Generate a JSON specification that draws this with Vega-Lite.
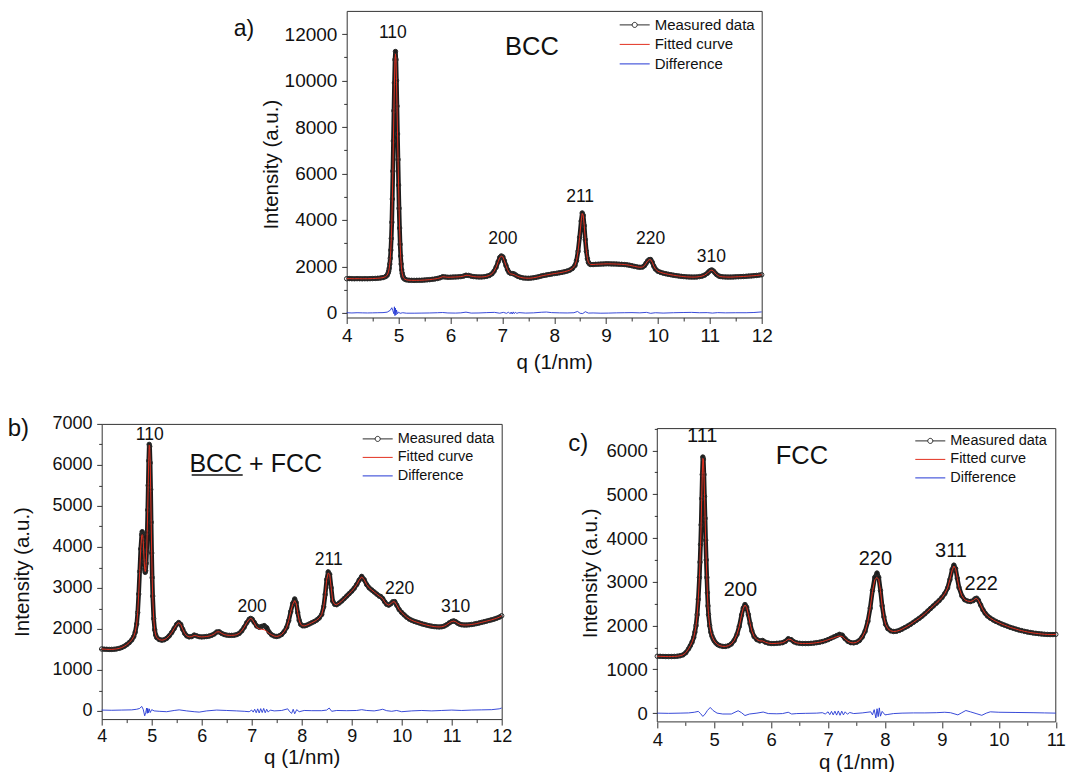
{
  "$schema": "https://vega.github.io/schema/vega-lite/v6.json",
  "padding": {"left": 6.7, "top": 9.9, "right": 0, "bottom": 0},
  "config": {
    "font": "Liberation Sans",
    "view": {"stroke": "#333", "strokeWidth": 1},
    "axis": {"domain": false, "grid": false, "tickColor": "#333", "tickWidth": 1, "labelColor": "#111", "titleColor": "#111", "labelFont": "Liberation Sans", "titleFont": "Liberation Sans", "titleFontWeight": "normal", "labelOverlap": false, "labelFlush": false, "labelBound": false},
    "legend": {"orient": "top-right", "offset": 6, "padding": 0, "labelFont": "Liberation Sans", "labelFontSize": 14.5, "labelColor": "#111", "symbolSize": 225, "labelOffset": 12, "rowPadding": 3.5},
    "title": {"font": "Liberation Sans", "fontWeight": "normal", "color": "#111"},
    "text": {"font": "Liberation Sans", "color": "#111"}
  },
  "datasets": {
    "a_m": [
      {"q":4,"m":1470,"f":1470},{"q":4.05,"m":1475,"f":1475},{"q":4.1,"m":1470,"f":1470},{"q":4.15,"m":1468,"f":1468},{"q":4.2,"m":1472,"f":1472},{"q":4.25,"m":1470,"f":1470},{"q":4.3,"m":1466,"f":1466},{"q":4.35,"m":1470,"f":1470},{"q":4.4,"m":1468,"f":1468},{"q":4.45,"m":1472,"f":1472},{"q":4.5,"m":1476,"f":1476},{"q":4.55,"m":1482,"f":1482},{"q":4.6,"m":1490,"f":1490},{"q":4.65,"m":1500,"f":1500},{"q":4.7,"m":1518,"f":1518},{"q":4.75,"m":1560,"f":1560},{"q":4.78,"m":1620,"f":1620},
      {"q":4.8,"m":1720,"f":1720},{"q":4.81,"m":1800,"f":1800},{"q":4.82,"m":1920,"f":1920},{"q":4.83,"m":2100,"f":2100},{"q":4.84,"m":2350,"f":2350},{"q":4.85,"m":2700,"f":2700},{"q":4.86,"m":3200,"f":3200},{"q":4.87,"m":3900,"f":3900},{"q":4.88,"m":4900,"f":4900},{"q":4.89,"m":6100,"f":6100},{"q":4.9,"m":7400,"f":7400},{"q":4.91,"m":8700,"f":8700},{"q":4.92,"m":9900,"f":9900},{"q":4.93,"m":10900,"f":10850},{"q":4.94,"m":11250,"f":11150},{"q":4.95,"m":10900,"f":10900},{"q":4.96,"m":10000,"f":10000},{"q":4.97,"m":8900,"f":8900},{"q":4.98,"m":7700,"f":7700},{"q":4.99,"m":6600,"f":6600},{"q":5,"m":5500,"f":5500},{"q":5.01,"m":4500,"f":4500},{"q":5.02,"m":3650,"f":3650},{"q":5.03,"m":2950,"f":2950},{"q":5.04,"m":2450,"f":2450},{"q":5.05,"m":2100,"f":2100},{"q":5.06,"m":1850,"f":1850},{"q":5.07,"m":1700,"f":1700},{"q":5.08,"m":1600,"f":1600},{"q":5.09,"m":1530,"f":1530},{"q":5.1,"m":1490,"f":1490},
      {"q":5.12,"m":1450,"f":1450},{"q":5.15,"m":1420,"f":1420},{"q":5.2,"m":1405,"f":1405},{"q":5.25,"m":1400,"f":1400},{"q":5.3,"m":1398,"f":1398},{"q":5.35,"m":1400,"f":1400},{"q":5.4,"m":1402,"f":1402},{"q":5.45,"m":1406,"f":1406},{"q":5.5,"m":1412,"f":1412},{"q":5.55,"m":1420,"f":1420},{"q":5.6,"m":1430,"f":1430},{"q":5.65,"m":1444,"f":1444},{"q":5.7,"m":1460,"f":1460},{"q":5.75,"m":1480,"f":1480},{"q":5.8,"m":1510,"f":1510},{"q":5.85,"m":1555,"f":1555},{"q":5.9,"m":1545,"f":1545},{"q":5.95,"m":1532,"f":1532},{"q":6,"m":1535,"f":1535},{"q":6.05,"m":1540,"f":1540},{"q":6.1,"m":1545,"f":1545},{"q":6.15,"m":1550,"f":1550},{"q":6.2,"m":1560,"f":1560},{"q":6.25,"m":1580,"f":1580},{"q":6.3,"m":1620,"f":1620},{"q":6.35,"m":1612,"f":1612},{"q":6.4,"m":1580,"f":1580},{"q":6.45,"m":1560,"f":1560},{"q":6.5,"m":1550,"f":1550},{"q":6.55,"m":1545,"f":1545},{"q":6.6,"m":1546,"f":1546},{"q":6.65,"m":1555,"f":1555},{"q":6.7,"m":1575,"f":1575},{"q":6.75,"m":1610,"f":1610},
      {"q":6.8,"m":1680,"f":1680},{"q":6.84,"m":1790,"f":1790},{"q":6.88,"m":1960,"f":1960},{"q":6.92,"m":2200,"f":2200},{"q":6.95,"m":2380,"f":2380},{"q":6.98,"m":2450,"f":2440},{"q":7.01,"m":2410,"f":2410},{"q":7.04,"m":2240,"f":2240},{"q":7.07,"m":2040,"f":2040},{"q":7.1,"m":1860,"f":1860},{"q":7.13,"m":1740,"f":1730},{"q":7.16,"m":1700,"f":1680},{"q":7.2,"m":1690,"f":1660},{"q":7.23,"m":1670,"f":1640},{"q":7.26,"m":1625,"f":1610},{"q":7.3,"m":1570,"f":1570},{"q":7.35,"m":1530,"f":1530},{"q":7.4,"m":1505,"f":1505},{"q":7.45,"m":1495,"f":1495},{"q":7.5,"m":1490,"f":1490},{"q":7.55,"m":1495,"f":1495},{"q":7.6,"m":1510,"f":1510},{"q":7.65,"m":1530,"f":1530},{"q":7.7,"m":1555,"f":1555},{"q":7.75,"m":1585,"f":1585},{"q":7.8,"m":1610,"f":1610},{"q":7.85,"m":1630,"f":1630},{"q":7.9,"m":1650,"f":1650},{"q":7.95,"m":1670,"f":1670},{"q":8,"m":1690,"f":1690},{"q":8.05,"m":1705,"f":1705},{"q":8.1,"m":1725,"f":1725},{"q":8.15,"m":1745,"f":1745},{"q":8.2,"m":1770,"f":1770},{"q":8.25,"m":1800,"f":1800},{"q":8.3,"m":1840,"f":1840},{"q":8.35,"m":1910,"f":1910},
      {"q":8.4,"m":2040,"f":2040},{"q":8.43,"m":2250,"f":2250},{"q":8.46,"m":2650,"f":2650},{"q":8.49,"m":3250,"f":3250},{"q":8.52,"m":3950,"f":3950},{"q":8.54,"m":4300,"f":4280},{"q":8.56,"m":4200,"f":4200},{"q":8.58,"m":3750,"f":3750},{"q":8.6,"m":3150,"f":3150},{"q":8.62,"m":2650,"f":2650},{"q":8.64,"m":2330,"f":2330},{"q":8.66,"m":2170,"f":2170},{"q":8.68,"m":2110,"f":2110},{"q":8.7,"m":2085,"f":2085},{"q":8.75,"m":2080,"f":2080},{"q":8.8,"m":2090,"f":2090},{"q":8.85,"m":2095,"f":2095},{"q":8.9,"m":2100,"f":2100},{"q":8.95,"m":2105,"f":2105},{"q":9,"m":2110,"f":2110},{"q":9.05,"m":2110,"f":2110},{"q":9.1,"m":2108,"f":2108},{"q":9.15,"m":2105,"f":2105},{"q":9.2,"m":2100,"f":2100},{"q":9.25,"m":2095,"f":2095},{"q":9.3,"m":2088,"f":2088},{"q":9.35,"m":2080,"f":2080},{"q":9.4,"m":2068,"f":2068},{"q":9.45,"m":2050,"f":2050},{"q":9.5,"m":2025,"f":2025},{"q":9.55,"m":2000,"f":2000},{"q":9.6,"m":1978,"f":1978},{"q":9.65,"m":1962,"f":1962},{"q":9.7,"m":1970,"f":1970},
      {"q":9.74,"m":2030,"f":2030},{"q":9.77,"m":2130,"f":2130},{"q":9.8,"m":2230,"f":2230},{"q":9.83,"m":2290,"f":2290},{"q":9.86,"m":2295,"f":2290},{"q":9.89,"m":2180,"f":2180},{"q":9.92,"m":2010,"f":2010},{"q":9.95,"m":1890,"f":1890},{"q":10,"m":1790,"f":1790},{"q":10.05,"m":1745,"f":1745},{"q":10.1,"m":1710,"f":1710},{"q":10.15,"m":1685,"f":1685},{"q":10.2,"m":1660,"f":1660},{"q":10.25,"m":1640,"f":1640},{"q":10.3,"m":1620,"f":1620},{"q":10.35,"m":1602,"f":1602},{"q":10.4,"m":1586,"f":1586},{"q":10.45,"m":1572,"f":1572},{"q":10.5,"m":1560,"f":1560},{"q":10.55,"m":1550,"f":1550},{"q":10.6,"m":1545,"f":1545},{"q":10.65,"m":1540,"f":1540},{"q":10.7,"m":1540,"f":1540},{"q":10.75,"m":1546,"f":1546},{"q":10.8,"m":1560,"f":1560},{"q":10.85,"m":1580,"f":1580},{"q":10.9,"m":1625,"f":1625},{"q":10.95,"m":1700,"f":1700},{"q":10.98,"m":1770,"f":1770},{"q":11.01,"m":1825,"f":1825},{"q":11.04,"m":1845,"f":1840},{"q":11.07,"m":1800,"f":1800},{"q":11.1,"m":1720,"f":1720},{"q":11.13,"m":1650,"f":1650},{"q":11.17,"m":1590,"f":1590},{"q":11.2,"m":1565,"f":1565},
      {"q":11.25,"m":1550,"f":1550},{"q":11.3,"m":1545,"f":1545},{"q":11.35,"m":1540,"f":1540},{"q":11.4,"m":1540,"f":1540},{"q":11.45,"m":1544,"f":1544},{"q":11.5,"m":1550,"f":1550},{"q":11.55,"m":1555,"f":1555},{"q":11.6,"m":1560,"f":1560},{"q":11.65,"m":1566,"f":1566},{"q":11.7,"m":1574,"f":1574},{"q":11.75,"m":1582,"f":1582},{"q":11.8,"m":1591,"f":1591},{"q":11.85,"m":1600,"f":1600},{"q":11.9,"m":1611,"f":1611},{"q":11.95,"m":1624,"f":1624},{"q":12,"m":1640,"f":1640}
    ],
    "a_d": [
      {"q":4,"d":5},{"q":4.1,"d":-5},{"q":4.2,"d":5},{"q":4.3,"d":0},{"q":4.4,"d":-5},{"q":4.5,"d":0},{"q":4.6,"d":5},{"q":4.7,"d":10},{"q":4.78,"d":30},{"q":4.84,"d":110},{"q":4.87,"d":220},{"q":4.89,"d":90},{"q":4.91,"d":-40},{"q":4.92,"d":260},{"q":4.93,"d":-120},{"q":4.94,"d":200},{"q":4.95,"d":-90},{"q":4.96,"d":120},{"q":4.98,"d":-40},{"q":5,"d":30},{"q":5.03,"d":-20},{"q":5.08,"d":5},{"q":5.15,"d":-15},{"q":5.3,"d":-15},{"q":5.45,"d":-10},{"q":5.6,"d":-5},{"q":5.75,"d":5},{"q":5.85,"d":15},{"q":5.95,"d":-5},{"q":6.1,"d":-10},{"q":6.2,"d":0},{"q":6.3,"d":30},{"q":6.4,"d":-10},{"q":6.55,"d":-5},{"q":6.7,"d":10},{"q":6.85,"d":20},{"q":6.95,"d":-15},{"q":7.02,"d":20},{"q":7.08,"d":-20},{"q":7.12,"d":30},{"q":7.15,"d":-40},{"q":7.17,"d":35},{"q":7.19,"d":-50},{"q":7.21,"d":40},{"q":7.23,"d":-35},{"q":7.25,"d":25},{"q":7.28,"d":-20},{"q":7.32,"d":10},{"q":7.45,"d":-10},{"q":7.6,"d":0},{"q":7.75,"d":25},{"q":7.85,"d":35},{"q":7.95,"d":10},{"q":8.1,"d":0},{"q":8.25,"d":-5},{"q":8.38,"d":5},{"q":8.45,"d":60},{"q":8.5,"d":-20},{"q":8.55,"d":-30},{"q":8.6,"d":50},{"q":8.66,"d":-10},{"q":8.75,"d":-5},{"q":8.9,"d":-15},{"q":9.05,"d":-10},{"q":9.2,"d":0},{"q":9.35,"d":5},{"q":9.5,"d":10},{"q":9.65,"d":0},{"q":9.78,"d":20},{"q":9.86,"d":-20},{"q":9.95,"d":5},{"q":10.1,"d":-10},{"q":10.3,"d":5},{"q":10.5,"d":15},{"q":10.65,"d":20},{"q":10.8,"d":5},{"q":10.95,"d":10},{"q":11.05,"d":-10},{"q":11.15,"d":10},{"q":11.3,"d":0},{"q":11.5,"d":5},{"q":11.7,"d":5},{"q":11.85,"d":15},{"q":12,"d":40}
    ],
    "a_lab": [{"q":4.89,"I":12070,"t":"110"},{"q":7.01,"I":3170,"t":"200"},{"q":8.5,"I":4970,"t":"211"},{"q":9.86,"I":3170,"t":"220"},{"q":11.03,"I":2410,"t":"310"}],
    "a_ph": [{"q":7.57,"I":11430,"t":"BCC"}],
    "b_m": [
      {"q":4,"m":1510,"f":1510},{"q":4.05,"m":1506,"f":1506},{"q":4.1,"m":1502,"f":1502},{"q":4.15,"m":1499,"f":1499},{"q":4.2,"m":1500,"f":1500},{"q":4.25,"m":1504,"f":1504},{"q":4.3,"m":1512,"f":1512},{"q":4.35,"m":1525,"f":1525},{"q":4.4,"m":1545,"f":1545},{"q":4.45,"m":1575,"f":1575},{"q":4.5,"m":1615,"f":1615},{"q":4.55,"m":1665,"f":1665},{"q":4.6,"m":1730,"f":1730},{"q":4.64,"m":1810,"f":1810},{"q":4.67,"m":1920,"f":1920},{"q":4.7,"m":2120,"f":2120},{"q":4.72,"m":2400,"f":2400},{"q":4.74,"m":2850,"f":2850},{"q":4.76,"m":3400,"f":3400},{"q":4.78,"m":3950,"f":3950},{"q":4.8,"m":4300,"f":4280},{"q":4.81,"m":4370,"f":4300},{"q":4.82,"m":4320,"f":4280},{"q":4.83,"m":4150,"f":4150},{"q":4.84,"m":3900,"f":3900},{"q":4.85,"m":3650,"f":3650},{"q":4.86,"m":3450,"f":3450},{"q":4.87,"m":3380,"f":3400},{"q":4.88,"m":3420,"f":3440},{"q":4.89,"m":3600,"f":3600},{"q":4.9,"m":3900,"f":3900},{"q":4.91,"m":4350,"f":4350},{"q":4.92,"m":4900,"f":4900},{"q":4.93,"m":5500,"f":5500},{"q":4.94,"m":6100,"f":6100},{"q":4.95,"m":6500,"f":6480},{"q":4.96,"m":6450,"f":6450},{"q":4.97,"m":6050,"f":6050},{"q":4.98,"m":5400,"f":5400},{"q":4.99,"m":4600,"f":4600},{"q":5,"m":3850,"f":3850},{"q":5.01,"m":3250,"f":3250},{"q":5.02,"m":2800,"f":2800},{"q":5.04,"m":2250,"f":2250},{"q":5.06,"m":1980,"f":1980},{"q":5.08,"m":1850,"f":1850},{"q":5.1,"m":1790,"f":1790},
      {"q":5.15,"m":1740,"f":1740},{"q":5.2,"m":1725,"f":1725},{"q":5.25,"m":1735,"f":1735},{"q":5.3,"m":1770,"f":1770},{"q":5.35,"m":1830,"f":1830},{"q":5.4,"m":1910,"f":1910},{"q":5.45,"m":2010,"f":2010},{"q":5.5,"m":2110,"f":2110},{"q":5.54,"m":2155,"f":2150},{"q":5.58,"m":2110,"f":2110},{"q":5.62,"m":1990,"f":1990},{"q":5.66,"m":1890,"f":1890},{"q":5.7,"m":1830,"f":1830},{"q":5.75,"m":1805,"f":1805},{"q":5.8,"m":1812,"f":1812},{"q":5.85,"m":1850,"f":1840},{"q":5.9,"m":1830,"f":1830},{"q":5.95,"m":1810,"f":1810},{"q":6,"m":1805,"f":1805},{"q":6.05,"m":1808,"f":1808},{"q":6.1,"m":1815,"f":1815},{"q":6.15,"m":1825,"f":1825},{"q":6.2,"m":1845,"f":1845},{"q":6.25,"m":1875,"f":1875},{"q":6.3,"m":1925,"f":1925},{"q":6.35,"m":1930,"f":1930},{"q":6.4,"m":1890,"f":1890},{"q":6.45,"m":1862,"f":1862},{"q":6.5,"m":1848,"f":1848},{"q":6.55,"m":1842,"f":1842},{"q":6.6,"m":1842,"f":1842},{"q":6.65,"m":1846,"f":1846},{"q":6.7,"m":1860,"f":1860},{"q":6.75,"m":1890,"f":1890},{"q":6.8,"m":1950,"f":1950},{"q":6.85,"m":2040,"f":2040},{"q":6.9,"m":2150,"f":2150},{"q":6.95,"m":2235,"f":2235},{"q":6.98,"m":2255,"f":2255},{"q":7.01,"m":2235,"f":2235},
      {"q":7.05,"m":2160,"f":2150},{"q":7.1,"m":2070,"f":2040},{"q":7.15,"m":2040,"f":2000},{"q":7.2,"m":2060,"f":1990},{"q":7.25,"m":2080,"f":1980},{"q":7.3,"m":2030,"f":1940},{"q":7.35,"m":1920,"f":1890},{"q":7.4,"m":1855,"f":1855},{"q":7.45,"m":1825,"f":1825},{"q":7.5,"m":1815,"f":1815},{"q":7.55,"m":1830,"f":1830},{"q":7.6,"m":1865,"f":1865},{"q":7.65,"m":1935,"f":1935},{"q":7.7,"m":2040,"f":2040},{"q":7.74,"m":2200,"f":2200},{"q":7.78,"m":2420,"f":2420},{"q":7.82,"m":2620,"f":2600},{"q":7.86,"m":2730,"f":2690},{"q":7.89,"m":2640,"f":2620},{"q":7.92,"m":2400,"f":2400},{"q":7.95,"m":2210,"f":2210},{"q":7.98,"m":2110,"f":2110},{"q":8.02,"m":2075,"f":2075},{"q":8.06,"m":2075,"f":2075},{"q":8.1,"m":2090,"f":2090},{"q":8.15,"m":2118,"f":2118},{"q":8.2,"m":2148,"f":2148},{"q":8.25,"m":2178,"f":2178},{"q":8.3,"m":2215,"f":2215},{"q":8.35,"m":2265,"f":2265},{"q":8.4,"m":2350,"f":2350},{"q":8.44,"m":2540,"f":2540},{"q":8.47,"m":2840,"f":2840},{"q":8.5,"m":3200,"f":3200},{"q":8.53,"m":3390,"f":3360},{"q":8.56,"m":3330,"f":3330},{"q":8.59,"m":3000,"f":3000},{"q":8.62,"m":2680,"f":2680},
      {"q":8.66,"m":2600,"f":2600},{"q":8.7,"m":2590,"f":2590},{"q":8.75,"m":2630,"f":2630},{"q":8.8,"m":2680,"f":2680},{"q":8.85,"m":2740,"f":2740},{"q":8.9,"m":2800,"f":2800},{"q":8.95,"m":2860,"f":2860},{"q":9,"m":2920,"f":2920},{"q":9.05,"m":2990,"f":2990},{"q":9.1,"m":3080,"f":3080},{"q":9.15,"m":3190,"f":3190},{"q":9.2,"m":3280,"f":3270},{"q":9.25,"m":3200,"f":3200},{"q":9.3,"m":3080,"f":3080},{"q":9.35,"m":3000,"f":3000},{"q":9.4,"m":2950,"f":2950},{"q":9.45,"m":2900,"f":2900},{"q":9.5,"m":2850,"f":2850},{"q":9.55,"m":2800,"f":2800},{"q":9.58,"m":2790,"f":2780},{"q":9.62,"m":2740,"f":2740},{"q":9.66,"m":2660,"f":2660},{"q":9.7,"m":2600,"f":2600},{"q":9.74,"m":2580,"f":2580},{"q":9.78,"m":2610,"f":2610},{"q":9.82,"m":2660,"f":2660},{"q":9.86,"m":2665,"f":2660},{"q":9.9,"m":2580,"f":2580},{"q":9.95,"m":2470,"f":2470},{"q":10,"m":2400,"f":2400},{"q":10.05,"m":2340,"f":2340},{"q":10.1,"m":2285,"f":2285},{"q":10.15,"m":2240,"f":2240},{"q":10.2,"m":2210,"f":2210},{"q":10.25,"m":2185,"f":2185},{"q":10.3,"m":2165,"f":2165},{"q":10.35,"m":2145,"f":2145},
      {"q":10.4,"m":2125,"f":2125},{"q":10.45,"m":2108,"f":2108},{"q":10.5,"m":2092,"f":2092},{"q":10.55,"m":2078,"f":2078},{"q":10.6,"m":2066,"f":2066},{"q":10.65,"m":2056,"f":2056},{"q":10.7,"m":2050,"f":2050},{"q":10.75,"m":2048,"f":2048},{"q":10.8,"m":2052,"f":2052},{"q":10.85,"m":2068,"f":2068},{"q":10.9,"m":2100,"f":2100},{"q":10.95,"m":2145,"f":2145},{"q":11,"m":2180,"f":2180},{"q":11.04,"m":2195,"f":2190},{"q":11.08,"m":2175,"f":2175},{"q":11.12,"m":2140,"f":2140},{"q":11.16,"m":2115,"f":2115},{"q":11.2,"m":2100,"f":2100},{"q":11.25,"m":2095,"f":2095},{"q":11.3,"m":2096,"f":2096},{"q":11.35,"m":2100,"f":2100},{"q":11.4,"m":2108,"f":2108},{"q":11.45,"m":2118,"f":2118},{"q":11.5,"m":2130,"f":2130},{"q":11.55,"m":2145,"f":2145},{"q":11.6,"m":2160,"f":2160},{"q":11.65,"m":2175,"f":2175},{"q":11.7,"m":2190,"f":2190},{"q":11.75,"m":2206,"f":2206},{"q":11.8,"m":2222,"f":2222},{"q":11.85,"m":2240,"f":2240},{"q":11.9,"m":2260,"f":2260},{"q":11.95,"m":2285,"f":2285},{"q":12,"m":2320,"f":2320}
    ],
    "b_d": [
      {"q":4,"d":20},{"q":4.2,"d":15},{"q":4.4,"d":20},{"q":4.6,"d":25},{"q":4.7,"d":40},{"q":4.76,"d":60},{"q":4.8,"d":110},{"q":4.83,"d":40},{"q":4.86,"d":-120},{"q":4.88,"d":-40},{"q":4.9,"d":70},{"q":4.91,"d":-60},{"q":4.92,"d":60},{"q":4.93,"d":-50},{"q":4.95,"d":50},{"q":4.97,"d":-40},{"q":5,"d":30},{"q":5.05,"d":0},{"q":5.15,"d":-10},{"q":5.3,"d":-20},{"q":5.45,"d":10},{"q":5.55,"d":25},{"q":5.7,"d":0},{"q":5.85,"d":-20},{"q":5.95,"d":-30},{"q":6.1,"d":0},{"q":6.3,"d":20},{"q":6.5,"d":10},{"q":6.7,"d":0},{"q":6.85,"d":-10},{"q":6.95,"d":-20},{"q":7,"d":20},{"q":7.03,"d":-30},{"q":7.06,"d":40},{"q":7.09,"d":-45},{"q":7.12,"d":50},{"q":7.15,"d":-50},{"q":7.18,"d":55},{"q":7.21,"d":-40},{"q":7.24,"d":60},{"q":7.27,"d":-45},{"q":7.3,"d":40},{"q":7.33,"d":-30},{"q":7.37,"d":20},{"q":7.45,"d":0},{"q":7.6,"d":10},{"q":7.72,"d":50},{"q":7.76,"d":-20},{"q":7.8,"d":-60},{"q":7.83,"d":40},{"q":7.86,"d":-70},{"q":7.9,"d":30},{"q":7.95,"d":-20},{"q":8.05,"d":10},{"q":8.2,"d":5},{"q":8.4,"d":5},{"q":8.5,"d":20},{"q":8.55,"d":70},{"q":8.6,"d":-10},{"q":8.7,"d":10},{"q":8.9,"d":5},{"q":9.1,"d":10},{"q":9.2,"d":30},{"q":9.3,"d":10},{"q":9.45,"d":0},{"q":9.55,"d":20},{"q":9.62,"d":40},{"q":9.7,"d":5},{"q":9.8,"d":-10},{"q":9.9,"d":10},{"q":10,"d":-20},{"q":10.2,"d":0},{"q":10.4,"d":10},{"q":10.6,"d":0},{"q":10.8,"d":10},{"q":11,"d":20},{"q":11.2,"d":10},{"q":11.4,"d":20},{"q":11.6,"d":25},{"q":11.8,"d":30},{"q":11.95,"d":50},{"q":12,"d":70}
    ],
    "b_lab": [{"q":4.96,"I":6730,"t":"110"},{"q":7.01,"I":2540,"t":"200"},{"q":8.54,"I":3680,"t":"211"},{"q":9.96,"I":2970,"t":"220"},{"q":11.08,"I":2540,"t":"310"}],
    "b_ph": [{"q":7.08,"I":6010,"t":"BCC + FCC"}],
    "b_ul": [{"q":5.8,"q2":6.82,"I":5755}],
    "c_m": [
      {"q":4,"m":1300,"f":1300},{"q":4.05,"m":1298,"f":1298},{"q":4.1,"m":1295,"f":1295},{"q":4.15,"m":1293,"f":1293},{"q":4.2,"m":1292,"f":1292},{"q":4.25,"m":1293,"f":1293},{"q":4.3,"m":1296,"f":1296},{"q":4.35,"m":1300,"f":1300},{"q":4.4,"m":1310,"f":1310},{"q":4.45,"m":1330,"f":1330},{"q":4.5,"m":1380,"f":1380},{"q":4.55,"m":1470,"f":1470},{"q":4.58,"m":1540,"f":1540},{"q":4.61,"m":1620,"f":1620},{"q":4.64,"m":1730,"f":1730},{"q":4.66,"m":1850,"f":1850},{"q":4.68,"m":2000,"f":2000},{"q":4.7,"m":2250,"f":2250},{"q":4.72,"m":2600,"f":2600},{"q":4.74,"m":3100,"f":3100},{"q":4.75,"m":3450,"f":3450},{"q":4.76,"m":3850,"f":3850},{"q":4.77,"m":4300,"f":4300},{"q":4.78,"m":4900,"f":4900},{"q":4.79,"m":5450,"f":5450},{"q":4.8,"m":5850,"f":5820},{"q":4.81,"m":5800,"f":5800},{"q":4.82,"m":5450,"f":5450},{"q":4.83,"m":4950,"f":4950},{"q":4.84,"m":4450,"f":4450},{"q":4.85,"m":3950,"f":3950},{"q":4.86,"m":3500,"f":3500},{"q":4.87,"m":3100,"f":3100},{"q":4.88,"m":2750,"f":2750},{"q":4.89,"m":2450,"f":2450},{"q":4.9,"m":2250,"f":2250},{"q":4.92,"m":2000,"f":2000},{"q":4.94,"m":1850,"f":1850},{"q":4.96,"m":1760,"f":1760},{"q":4.98,"m":1700,"f":1700},{"q":5,"m":1650,"f":1650},{"q":5.03,"m":1600,"f":1600},{"q":5.06,"m":1565,"f":1565},{"q":5.1,"m":1540,"f":1540},
      {"q":5.15,"m":1525,"f":1525},{"q":5.2,"m":1525,"f":1525},{"q":5.25,"m":1540,"f":1540},{"q":5.3,"m":1580,"f":1580},{"q":5.35,"m":1660,"f":1660},{"q":5.4,"m":1800,"f":1800},{"q":5.44,"m":1980,"f":1980},{"q":5.48,"m":2240,"f":2240},{"q":5.51,"m":2400,"f":2400},{"q":5.54,"m":2480,"f":2470},{"q":5.57,"m":2420,"f":2420},{"q":5.6,"m":2250,"f":2250},{"q":5.63,"m":2050,"f":2050},{"q":5.66,"m":1880,"f":1880},{"q":5.7,"m":1750,"f":1750},{"q":5.75,"m":1680,"f":1680},{"q":5.8,"m":1650,"f":1650},{"q":5.85,"m":1660,"f":1650},{"q":5.9,"m":1620,"f":1620},{"q":5.95,"m":1600,"f":1600},{"q":6,"m":1590,"f":1590},{"q":6.05,"m":1590,"f":1590},{"q":6.1,"m":1595,"f":1595},{"q":6.15,"m":1600,"f":1600},{"q":6.2,"m":1610,"f":1610},{"q":6.25,"m":1640,"f":1640},{"q":6.3,"m":1700,"f":1690},{"q":6.35,"m":1680,"f":1680},{"q":6.4,"m":1630,"f":1630},{"q":6.45,"m":1605,"f":1605},{"q":6.5,"m":1595,"f":1595},{"q":6.55,"m":1590,"f":1590},{"q":6.6,"m":1590,"f":1590},{"q":6.65,"m":1590,"f":1590},{"q":6.7,"m":1595,"f":1595},{"q":6.75,"m":1600,"f":1600},{"q":6.8,"m":1610,"f":1610},{"q":6.85,"m":1620,"f":1620},{"q":6.9,"m":1635,"f":1635},{"q":6.95,"m":1655,"f":1655},{"q":7,"m":1680,"f":1675},
      {"q":7.05,"m":1710,"f":1700},{"q":7.1,"m":1740,"f":1720},{"q":7.15,"m":1770,"f":1745},{"q":7.2,"m":1800,"f":1760},{"q":7.25,"m":1780,"f":1750},{"q":7.3,"m":1700,"f":1690},{"q":7.35,"m":1640,"f":1640},{"q":7.4,"m":1610,"f":1610},{"q":7.45,"m":1605,"f":1605},{"q":7.5,"m":1620,"f":1620},{"q":7.55,"m":1660,"f":1660},{"q":7.6,"m":1740,"f":1740},{"q":7.65,"m":1870,"f":1870},{"q":7.7,"m":2100,"f":2100},{"q":7.74,"m":2400,"f":2400},{"q":7.78,"m":2800,"f":2780},{"q":7.82,"m":3100,"f":3050},{"q":7.86,"m":3200,"f":3100},{"q":7.89,"m":3100,"f":3050},{"q":7.92,"m":2800,"f":2800},{"q":7.95,"m":2450,"f":2450},{"q":7.98,"m":2200,"f":2200},{"q":8.01,"m":2030,"f":2030},{"q":8.05,"m":1930,"f":1930},{"q":8.1,"m":1880,"f":1880},{"q":8.15,"m":1865,"f":1865},{"q":8.2,"m":1870,"f":1870},{"q":8.25,"m":1890,"f":1890},{"q":8.3,"m":1920,"f":1920},{"q":8.35,"m":1955,"f":1955},{"q":8.4,"m":1990,"f":1990},{"q":8.45,"m":2030,"f":2030},{"q":8.5,"m":2075,"f":2075},{"q":8.55,"m":2120,"f":2120},{"q":8.6,"m":2165,"f":2165},{"q":8.65,"m":2215,"f":2215},{"q":8.7,"m":2270,"f":2270},{"q":8.75,"m":2330,"f":2330},{"q":8.8,"m":2390,"f":2390},{"q":8.85,"m":2450,"f":2450},{"q":8.9,"m":2510,"f":2510},{"q":8.95,"m":2570,"f":2570},
      {"q":9,"m":2640,"f":2640},{"q":9.05,"m":2730,"f":2730},{"q":9.1,"m":2860,"f":2860},{"q":9.14,"m":3050,"f":3050},{"q":9.18,"m":3280,"f":3270},{"q":9.21,"m":3380,"f":3360},{"q":9.24,"m":3300,"f":3300},{"q":9.27,"m":3080,"f":3080},{"q":9.3,"m":2870,"f":2870},{"q":9.35,"m":2680,"f":2680},{"q":9.4,"m":2590,"f":2590},{"q":9.45,"m":2560,"f":2560},{"q":9.5,"m":2550,"f":2550},{"q":9.55,"m":2570,"f":2570},{"q":9.58,"m":2610,"f":2610},{"q":9.61,"m":2625,"f":2620},{"q":9.64,"m":2580,"f":2580},{"q":9.68,"m":2470,"f":2470},{"q":9.72,"m":2360,"f":2360},{"q":9.76,"m":2280,"f":2280},{"q":9.8,"m":2220,"f":2220},{"q":9.85,"m":2170,"f":2170},{"q":9.9,"m":2130,"f":2130},{"q":9.95,"m":2095,"f":2095},{"q":10,"m":2065,"f":2065},{"q":10.05,"m":2035,"f":2035},{"q":10.1,"m":2010,"f":2010},{"q":10.15,"m":1985,"f":1985},{"q":10.2,"m":1960,"f":1960},{"q":10.25,"m":1940,"f":1940},{"q":10.3,"m":1920,"f":1920},{"q":10.35,"m":1900,"f":1900},{"q":10.4,"m":1885,"f":1885},{"q":10.45,"m":1868,"f":1868},{"q":10.5,"m":1855,"f":1855},{"q":10.55,"m":1843,"f":1843},{"q":10.6,"m":1832,"f":1832},{"q":10.65,"m":1823,"f":1823},{"q":10.7,"m":1815,"f":1815},{"q":10.75,"m":1808,"f":1808},{"q":10.8,"m":1802,"f":1802},{"q":10.85,"m":1798,"f":1798},{"q":10.9,"m":1795,"f":1795},{"q":10.95,"m":1795,"f":1795},{"q":11,"m":1800,"f":1800}
    ],
    "c_d": [
      {"q":4,"d":0},{"q":4.2,"d":-5},{"q":4.4,"d":0},{"q":4.55,"d":5},{"q":4.65,"d":20},{"q":4.72,"d":40},{"q":4.76,"d":-10},{"q":4.8,"d":-75},{"q":4.84,"d":-20},{"q":4.88,"d":60},{"q":4.93,"d":130},{"q":4.98,"d":60},{"q":5.05,"d":0},{"q":5.15,"d":-20},{"q":5.3,"d":-20},{"q":5.42,"d":55},{"q":5.48,"d":10},{"q":5.54,"d":-55},{"q":5.62,"d":-20},{"q":5.75,"d":0},{"q":5.86,"d":25},{"q":5.95,"d":-10},{"q":6.1,"d":-15},{"q":6.2,"d":-10},{"q":6.3,"d":20},{"q":6.36,"d":-20},{"q":6.45,"d":-10},{"q":6.6,"d":-5},{"q":6.8,"d":0},{"q":6.9,"d":10},{"q":6.95,"d":-20},{"q":7,"d":30},{"q":7.03,"d":-35},{"q":7.06,"d":40},{"q":7.09,"d":-40},{"q":7.12,"d":45},{"q":7.15,"d":-45},{"q":7.18,"d":50},{"q":7.21,"d":-50},{"q":7.24,"d":45},{"q":7.27,"d":-40},{"q":7.3,"d":30},{"q":7.34,"d":-25},{"q":7.38,"d":15},{"q":7.45,"d":-10},{"q":7.6,"d":5},{"q":7.75,"d":30},{"q":7.78,"d":-40},{"q":7.81,"d":80},{"q":7.84,"d":-110},{"q":7.86,"d":100},{"q":7.88,"d":-80},{"q":7.9,"d":120},{"q":7.92,"d":-70},{"q":7.95,"d":40},{"q":8,"d":-40},{"q":8.05,"d":-30},{"q":8.15,"d":-10},{"q":8.3,"d":0},{"q":8.5,"d":5},{"q":8.7,"d":5},{"q":8.9,"d":10},{"q":9.05,"d":20},{"q":9.15,"d":10},{"q":9.28,"d":-40},{"q":9.35,"d":10},{"q":9.42,"d":60},{"q":9.5,"d":30},{"q":9.6,"d":-10},{"q":9.7,"d":-50},{"q":9.78,"d":0},{"q":9.85,"d":30},{"q":10,"d":20},{"q":10.3,"d":15},{"q":10.6,"d":10},{"q":10.8,"d":5},{"q":11,"d":0}
    ],
    "c_lab": [{"q":4.79,"I":6330,"t":"111"},{"q":5.46,"I":2820,"t":"200"},{"q":7.83,"I":3510,"t":"220"},{"q":9.16,"I":3700,"t":"311"},{"q":9.69,"I":2950,"t":"222"}],
    "c_ph": [{"q":6.54,"I":5870,"t":"FCC"}],
    "c_box": [{"q":4,"q2":11,"I":-200,"I2":6500}]
  },
  "bounds": "full",
  "spacing": 40,
  "resolve": {"scale": {"x": "independent", "y": "independent", "color": "independent"}, "legend": {"color": "independent"}},
  "vconcat": [
    {
      "bounds": "flush",
      "spacing": 0,
      "resolve": {"scale": {"x": "independent", "y": "independent", "color": "independent"}, "legend": {"color": "independent"}},
      "hconcat": [
        {"width": 245, "height": 10, "view": {"stroke": null}, "data": {"values": [{}]}, "mark": {"type": "point", "opacity": 0}},
        {
          "width": 415, "height": 306.6,
          "title": {"text": "a)", "orient": "top", "anchor": "start", "frame": "group", "offset": 0, "baseline": "top", "align": "left", "dx": -113, "dy": 30, "fontSize": 23},
          "resolve": {"axis": {"x": "independent", "y": "independent"}},
          "layer": [
            {"data": {"name": "a_m"}, "mark": {"type": "line", "stroke": "#1c1c1c", "strokeWidth": 4.5, "strokeJoin": "round"},
             "encoding": {
               "x": {"field": "q", "type": "quantitative", "scale": {"domain": [4, 12], "nice": false, "zero": false},
                     "axis": {"orient": "bottom", "title": "q (1/nm)", "values": [4,5,6,7,8,9,10,11,12], "format": "d", "tickSize": 6, "labelFontSize": 19, "labelPadding": 2.6, "titleFontSize": 20.5, "titlePadding": 7}},
               "y": {"field": "m", "type": "quantitative", "scale": {"domain": [-200, 13000], "nice": false, "zero": false},
                     "axis": {"orient": "left", "title": "Intensity (a.u.)", "values": [0,2000,4000,6000,8000,10000,12000], "format": "d", "tickSize": 5, "labelFontSize": 19, "labelPadding": 4.8, "titleFontSize": 20.5, "titlePadding": 3}}}},
            {"data": {"name": "a_m"}, "mark": {"type": "point", "filled": false, "size": 20, "strokeWidth": 1, "opacity": 1},
             "encoding": {
               "x": {"field": "q", "type": "quantitative", "scale": {"domain": [4, 12], "nice": false, "zero": false},
                     "axis": {"orient": "bottom", "title": null, "labels": false, "values": [4.5,5.5,6.5,7.5,8.5,9.5,10.5,11.5], "tickSize": 3.5}},
               "y": {"field": "m", "type": "quantitative", "scale": {"domain": [-200, 13000], "nice": false, "zero": false},
                     "axis": {"orient": "left", "title": null, "labels": false, "values": [1000,3000,5000,7000,9000,11000], "tickSize": 3}},
               "color": {"datum": "Measured data", "type": "nominal", "scale": {"domain": ["Measured data", "Fitted curve", "Difference"], "range": ["#2a2a2a", "#e2301f", "#2337d4"]},
                         "legend": {"title": null, "labelFontSize": 15, "encode": {"symbols": {"update": {"shape": {"signal": "datum.value === 'Measured data' ? 'M-2,0H-0.34M0.34,0H2M0.34,0A0.34,0.34 0 1,1 -0.34,0A0.34,0.34 0 1,1 0.34,0' : 'M-2,0H2'"}, "fill": {"value": "transparent"}, "strokeWidth": {"value": 1}}}}}}}},
            {"data": {"name": "a_m"}, "mark": {"type": "line", "strokeWidth": 1},
             "encoding": {
               "x": {"field": "q", "type": "quantitative", "scale": {"domain": [4, 12], "nice": false, "zero": false}, "axis": null},
               "y": {"field": "f", "type": "quantitative", "scale": {"domain": [-200, 13000], "nice": false, "zero": false}, "axis": null},
               "color": {"datum": "Fitted curve", "type": "nominal", "scale": {"domain": ["Measured data", "Fitted curve", "Difference"], "range": ["#2a2a2a", "#e2301f", "#2337d4"]},
                         "legend": {"title": null, "labelFontSize": 15, "encode": {"symbols": {"update": {"shape": {"signal": "datum.value === 'Measured data' ? 'M-2,0H-0.34M0.34,0H2M0.34,0A0.34,0.34 0 1,1 -0.34,0A0.34,0.34 0 1,1 0.34,0' : 'M-2,0H2'"}, "fill": {"value": "transparent"}, "strokeWidth": {"value": 1}}}}}}}},
            {"data": {"name": "a_d"}, "mark": {"type": "line", "strokeWidth": 0.9},
             "encoding": {
               "x": {"field": "q", "type": "quantitative", "scale": {"domain": [4, 12], "nice": false, "zero": false}, "axis": null},
               "y": {"field": "d", "type": "quantitative", "scale": {"domain": [-200, 13000], "nice": false, "zero": false}, "axis": null},
               "color": {"datum": "Difference", "type": "nominal", "scale": {"domain": ["Measured data", "Fitted curve", "Difference"], "range": ["#2a2a2a", "#e2301f", "#2337d4"]},
                         "legend": {"title": null, "labelFontSize": 15, "encode": {"symbols": {"update": {"shape": {"signal": "datum.value === 'Measured data' ? 'M-2,0H-0.34M0.34,0H2M0.34,0A0.34,0.34 0 1,1 -0.34,0A0.34,0.34 0 1,1 0.34,0' : 'M-2,0H2'"}, "fill": {"value": "transparent"}, "strokeWidth": {"value": 1}}}}}}}},
            {"data": {"name": "a_lab"}, "mark": {"type": "text", "fontSize": 17.5, "baseline": "middle", "align": "center"},
             "encoding": {
               "x": {"field": "q", "type": "quantitative", "scale": {"domain": [4, 12], "nice": false, "zero": false}, "axis": null},
               "y": {"field": "I", "type": "quantitative", "scale": {"domain": [-200, 13000], "nice": false, "zero": false}, "axis": null},
               "text": {"field": "t"}}},
            {"data": {"name": "a_ph"}, "mark": {"type": "text", "fontSize": 25.5, "baseline": "middle", "align": "center"},
             "encoding": {
               "x": {"field": "q", "type": "quantitative", "scale": {"domain": [4, 12], "nice": false, "zero": false}, "axis": null},
               "y": {"field": "I", "type": "quantitative", "scale": {"domain": [-200, 13000], "nice": false, "zero": false}, "axis": null},
               "text": {"field": "t"}}}
          ]
        }
      ]
    },
    {
      "bounds": "flush",
      "spacing": 155.6,
      "resolve": {"scale": {"x": "independent", "y": "independent", "color": "independent"}, "legend": {"color": "independent"}},
      "hconcat": [
        {
          "width": 400, "height": 295.2,
          "title": {"text": "b)", "orient": "top", "anchor": "start", "frame": "group", "offset": 0, "baseline": "top", "align": "left", "dx": -94, "dy": 26.5, "fontSize": 24},
          "resolve": {"axis": {"x": "independent", "y": "independent"}},
          "layer": [
            {"data": {"name": "b_m"}, "mark": {"type": "line", "stroke": "#1c1c1c", "strokeWidth": 4.5, "strokeJoin": "round"},
             "encoding": {
               "x": {"field": "q", "type": "quantitative", "scale": {"domain": [4, 12], "nice": false, "zero": false},
                     "axis": {"orient": "bottom", "title": "q (1/nm)", "values": [4,5,6,7,8,9,10,11,12], "format": "d", "tickSize": 6, "labelFontSize": 18, "labelPadding": 2.2, "titleFontSize": 20.5, "titlePadding": 2.5}},
               "y": {"field": "m", "type": "quantitative", "scale": {"domain": [-200, 7000], "nice": false, "zero": false},
                     "axis": {"orient": "left", "title": "Intensity (a.u.)", "values": [0,1000,2000,3000,4000,5000,6000,7000], "format": "d", "tickSize": 5, "labelFontSize": 18, "labelPadding": 4.6, "titleFontSize": 20.5, "titlePadding": 20}}}},
            {"data": {"name": "b_m"}, "mark": {"type": "point", "filled": false, "size": 20, "strokeWidth": 1, "opacity": 1},
             "encoding": {
               "x": {"field": "q", "type": "quantitative", "scale": {"domain": [4, 12], "nice": false, "zero": false},
                     "axis": {"orient": "bottom", "title": null, "labels": false, "values": [4.5,5.5,6.5,7.5,8.5,9.5,10.5,11.5], "tickSize": 3.5}},
               "y": {"field": "m", "type": "quantitative", "scale": {"domain": [-200, 7000], "nice": false, "zero": false},
                     "axis": {"orient": "left", "title": null, "labels": false, "values": [500,1500,2500,3500,4500,5500,6500], "tickSize": 3}},
               "color": {"datum": "Measured data", "type": "nominal", "scale": {"domain": ["Measured data", "Fitted curve", "Difference"], "range": ["#2a2a2a", "#e2301f", "#2337d4"]},
                         "legend": {"title": null, "offset": 7, "encode": {"symbols": {"update": {"shape": {"signal": "datum.value === 'Measured data' ? 'M-2,0H-0.34M0.34,0H2M0.34,0A0.34,0.34 0 1,1 -0.34,0A0.34,0.34 0 1,1 0.34,0' : 'M-2,0H2'"}, "fill": {"value": "transparent"}, "strokeWidth": {"value": 1}}}}}}}},
            {"data": {"name": "b_m"}, "mark": {"type": "line", "strokeWidth": 1},
             "encoding": {
               "x": {"field": "q", "type": "quantitative", "scale": {"domain": [4, 12], "nice": false, "zero": false}, "axis": null},
               "y": {"field": "f", "type": "quantitative", "scale": {"domain": [-200, 7000], "nice": false, "zero": false}, "axis": null},
               "color": {"datum": "Fitted curve", "type": "nominal", "scale": {"domain": ["Measured data", "Fitted curve", "Difference"], "range": ["#2a2a2a", "#e2301f", "#2337d4"]},
                         "legend": {"title": null, "offset": 7, "encode": {"symbols": {"update": {"shape": {"signal": "datum.value === 'Measured data' ? 'M-2,0H-0.34M0.34,0H2M0.34,0A0.34,0.34 0 1,1 -0.34,0A0.34,0.34 0 1,1 0.34,0' : 'M-2,0H2'"}, "fill": {"value": "transparent"}, "strokeWidth": {"value": 1}}}}}}}},
            {"data": {"name": "b_d"}, "mark": {"type": "line", "strokeWidth": 0.9},
             "encoding": {
               "x": {"field": "q", "type": "quantitative", "scale": {"domain": [4, 12], "nice": false, "zero": false}, "axis": null},
               "y": {"field": "d", "type": "quantitative", "scale": {"domain": [-200, 7000], "nice": false, "zero": false}, "axis": null},
               "color": {"datum": "Difference", "type": "nominal", "scale": {"domain": ["Measured data", "Fitted curve", "Difference"], "range": ["#2a2a2a", "#e2301f", "#2337d4"]},
                         "legend": {"title": null, "offset": 7, "encode": {"symbols": {"update": {"shape": {"signal": "datum.value === 'Measured data' ? 'M-2,0H-0.34M0.34,0H2M0.34,0A0.34,0.34 0 1,1 -0.34,0A0.34,0.34 0 1,1 0.34,0' : 'M-2,0H2'"}, "fill": {"value": "transparent"}, "strokeWidth": {"value": 1}}}}}}}},
            {"data": {"name": "b_lab"}, "mark": {"type": "text", "fontSize": 17.5, "baseline": "middle", "align": "center"},
             "encoding": {
               "x": {"field": "q", "type": "quantitative", "scale": {"domain": [4, 12], "nice": false, "zero": false}, "axis": null},
               "y": {"field": "I", "type": "quantitative", "scale": {"domain": [-200, 7000], "nice": false, "zero": false}, "axis": null},
               "text": {"field": "t"}}},
            {"data": {"name": "b_ph"}, "mark": {"type": "text", "fontSize": 25, "baseline": "middle", "align": "center"},
             "encoding": {
               "x": {"field": "q", "type": "quantitative", "scale": {"domain": [4, 12], "nice": false, "zero": false}, "axis": null},
               "y": {"field": "I", "type": "quantitative", "scale": {"domain": [-200, 7000], "nice": false, "zero": false}, "axis": null},
               "text": {"field": "t"}}},
            {"data": {"name": "b_ul"}, "mark": {"type": "rule", "stroke": "#111", "strokeWidth": 1.4},
             "encoding": {
               "x": {"field": "q", "type": "quantitative", "scale": {"domain": [4, 12], "nice": false, "zero": false}, "axis": null},
               "x2": {"field": "q2"},
               "y": {"field": "I", "type": "quantitative", "scale": {"domain": [-200, 7000], "nice": false, "zero": false}, "axis": null}}}
          ]
        },
        {
          "width": 398.5, "height": 298,
          "view": {"stroke": null},
          "title": {"text": "c)", "orient": "top", "anchor": "start", "frame": "group", "offset": 0, "baseline": "top", "align": "left", "dx": -89, "dy": 32, "fontSize": 24},
          "resolve": {"axis": {"x": "independent", "y": "independent"}},
          "layer": [
            {"data": {"name": "c_box"}, "mark": {"type": "rect", "filled": false, "stroke": "#333", "strokeWidth": 1},
             "encoding": {
               "x": {"field": "q", "type": "quantitative", "scale": {"domain": [4, 11], "nice": false, "zero": false}, "axis": null},
               "x2": {"field": "q2"},
               "y": {"field": "I", "type": "quantitative", "scale": {"domain": [-200, 6607.5], "nice": false, "zero": false}, "axis": null},
               "y2": {"field": "I2"}}},
            {"data": {"name": "c_m"}, "mark": {"type": "line", "stroke": "#1c1c1c", "strokeWidth": 4.5, "strokeJoin": "round"},
             "encoding": {
               "x": {"field": "q", "type": "quantitative", "scale": {"domain": [4, 11], "nice": false, "zero": false},
                     "axis": {"orient": "bottom", "title": "q (1/nm)", "values": [4,5,6,7,8,9,10,11], "format": "d", "tickSize": 6, "labelFontSize": 18.5, "labelPadding": 2.9, "titleFontSize": 20.5, "titlePadding": 3}},
               "y": {"field": "m", "type": "quantitative", "scale": {"domain": [-200, 6607.5], "nice": false, "zero": false},
                     "axis": {"orient": "left", "title": "Intensity (a.u.)", "values": [0,1000,2000,3000,4000,5000,6000], "format": "d", "tickSize": 5, "labelFontSize": 18.5, "labelPadding": 5.1, "titleFontSize": 20.5, "titlePadding": 6}}}},
            {"data": {"name": "c_m"}, "mark": {"type": "point", "filled": false, "size": 20, "strokeWidth": 1, "opacity": 1},
             "encoding": {
               "x": {"field": "q", "type": "quantitative", "scale": {"domain": [4, 11], "nice": false, "zero": false},
                     "axis": {"orient": "bottom", "title": null, "labels": false, "values": [4.5,5.5,6.5,7.5,8.5,9.5,10.5], "tickSize": 3.5}},
               "y": {"field": "m", "type": "quantitative", "scale": {"domain": [-200, 6607.5], "nice": false, "zero": false},
                     "axis": {"orient": "left", "title": null, "labels": false, "values": [500,1500,2500,3500,4500,5500,6500], "tickSize": 3}},
               "color": {"datum": "Measured data", "type": "nominal", "scale": {"domain": ["Measured data", "Fitted curve", "Difference"], "range": ["#2a2a2a", "#e2301f", "#2337d4"]},
                         "legend": {"title": null, "offset": 8.5, "encode": {"symbols": {"update": {"shape": {"signal": "datum.value === 'Measured data' ? 'M-2,0H-0.34M0.34,0H2M0.34,0A0.34,0.34 0 1,1 -0.34,0A0.34,0.34 0 1,1 0.34,0' : 'M-2,0H2'"}, "fill": {"value": "transparent"}, "strokeWidth": {"value": 1}}}}}}}},
            {"data": {"name": "c_m"}, "mark": {"type": "line", "strokeWidth": 1},
             "encoding": {
               "x": {"field": "q", "type": "quantitative", "scale": {"domain": [4, 11], "nice": false, "zero": false}, "axis": null},
               "y": {"field": "f", "type": "quantitative", "scale": {"domain": [-200, 6607.5], "nice": false, "zero": false}, "axis": null},
               "color": {"datum": "Fitted curve", "type": "nominal", "scale": {"domain": ["Measured data", "Fitted curve", "Difference"], "range": ["#2a2a2a", "#e2301f", "#2337d4"]},
                         "legend": {"title": null, "offset": 8.5, "encode": {"symbols": {"update": {"shape": {"signal": "datum.value === 'Measured data' ? 'M-2,0H-0.34M0.34,0H2M0.34,0A0.34,0.34 0 1,1 -0.34,0A0.34,0.34 0 1,1 0.34,0' : 'M-2,0H2'"}, "fill": {"value": "transparent"}, "strokeWidth": {"value": 1}}}}}}}},
            {"data": {"name": "c_d"}, "mark": {"type": "line", "strokeWidth": 0.9},
             "encoding": {
               "x": {"field": "q", "type": "quantitative", "scale": {"domain": [4, 11], "nice": false, "zero": false}, "axis": null},
               "y": {"field": "d", "type": "quantitative", "scale": {"domain": [-200, 6607.5], "nice": false, "zero": false}, "axis": null},
               "color": {"datum": "Difference", "type": "nominal", "scale": {"domain": ["Measured data", "Fitted curve", "Difference"], "range": ["#2a2a2a", "#e2301f", "#2337d4"]},
                         "legend": {"title": null, "offset": 8.5, "encode": {"symbols": {"update": {"shape": {"signal": "datum.value === 'Measured data' ? 'M-2,0H-0.34M0.34,0H2M0.34,0A0.34,0.34 0 1,1 -0.34,0A0.34,0.34 0 1,1 0.34,0' : 'M-2,0H2'"}, "fill": {"value": "transparent"}, "strokeWidth": {"value": 1}}}}}}}},
            {"data": {"name": "c_lab"}, "mark": {"type": "text", "fontSize": 20, "baseline": "middle", "align": "center"},
             "encoding": {
               "x": {"field": "q", "type": "quantitative", "scale": {"domain": [4, 11], "nice": false, "zero": false}, "axis": null},
               "y": {"field": "I", "type": "quantitative", "scale": {"domain": [-200, 6607.5], "nice": false, "zero": false}, "axis": null},
               "text": {"field": "t"}}},
            {"data": {"name": "c_ph"}, "mark": {"type": "text", "fontSize": 25.5, "baseline": "middle", "align": "center"},
             "encoding": {
               "x": {"field": "q", "type": "quantitative", "scale": {"domain": [4, 11], "nice": false, "zero": false}, "axis": null},
               "y": {"field": "I", "type": "quantitative", "scale": {"domain": [-200, 6607.5], "nice": false, "zero": false}, "axis": null},
               "text": {"field": "t"}}}
          ]
        }
      ]
    }
  ]
}
